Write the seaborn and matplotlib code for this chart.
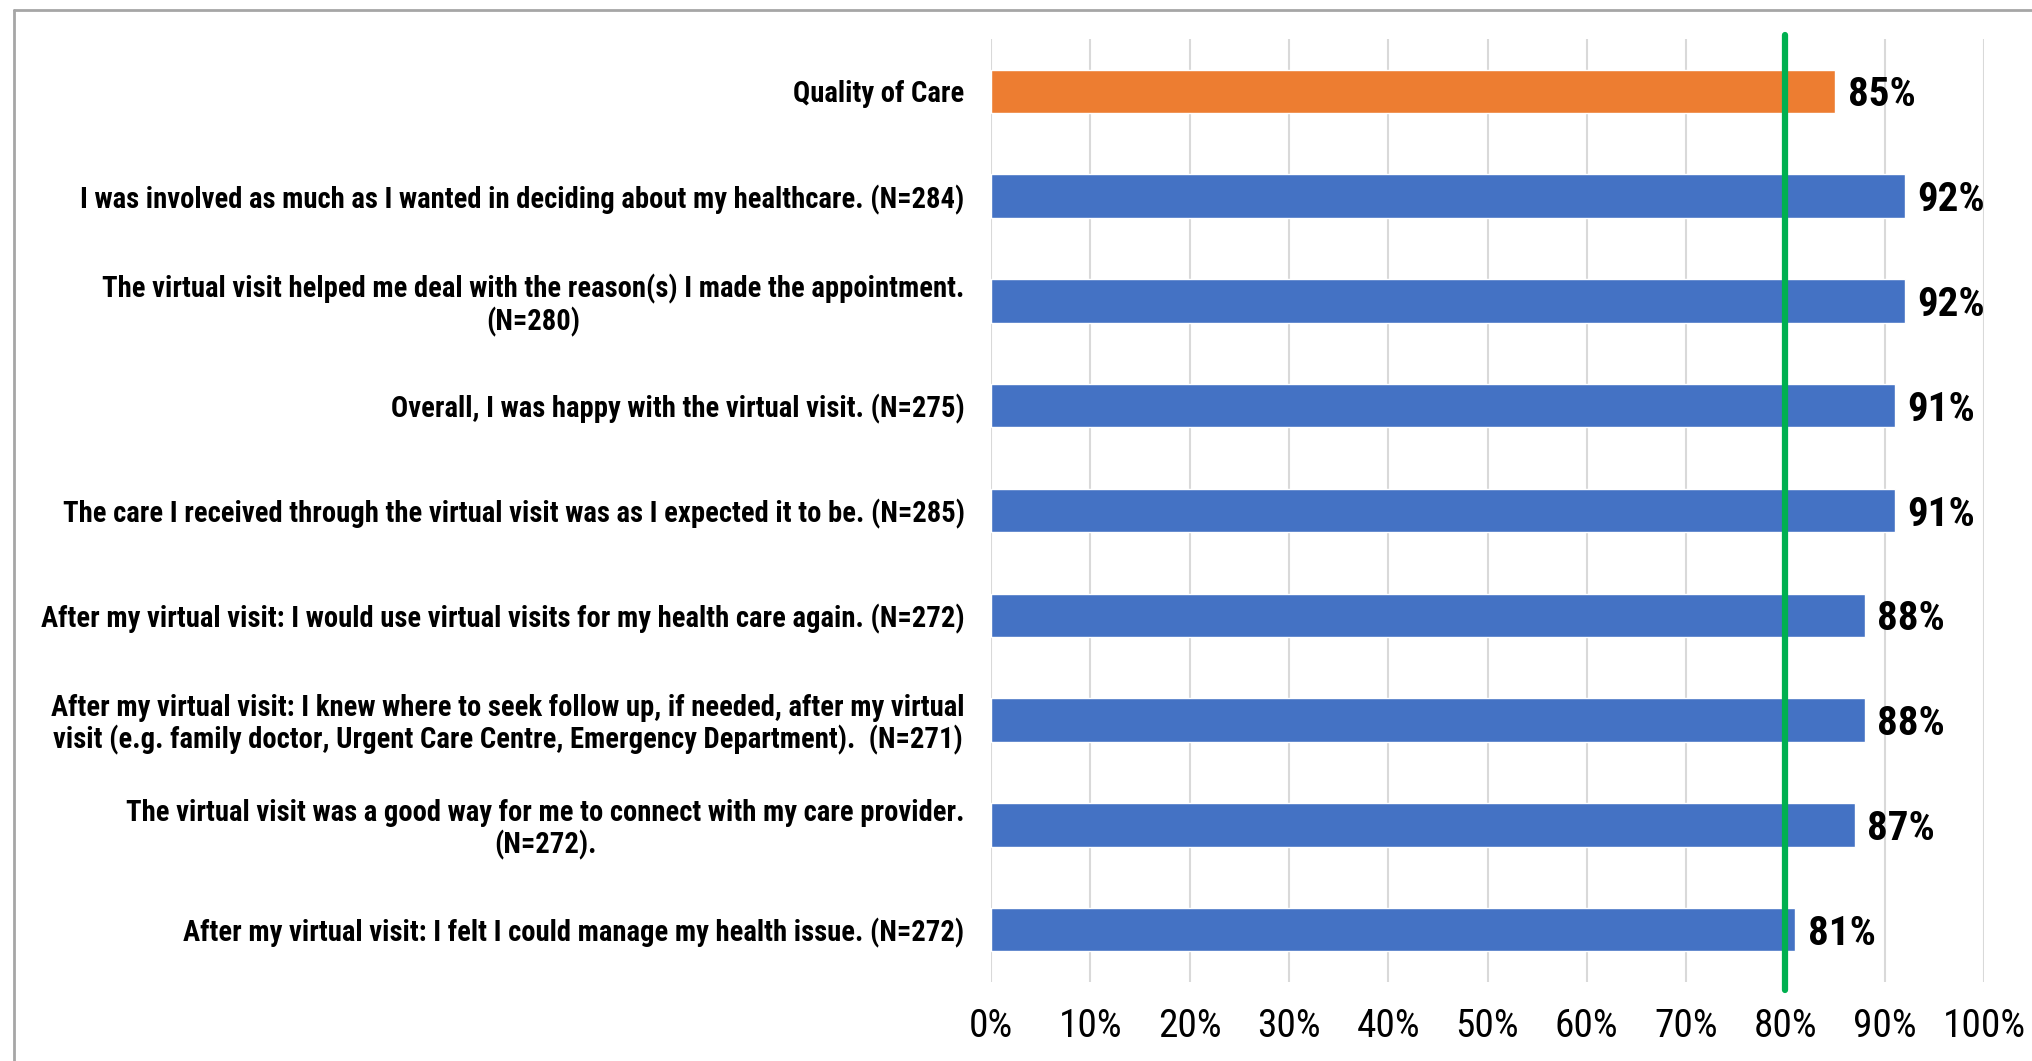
import matplotlib
matplotlib.use("Agg")
import matplotlib.pyplot as plt
import seaborn as sns
import pandas as pd
from matplotlib.lines import Line2D
from matplotlib import font_manager as fm

categories = [
    "Quality of Care",
    "I was involved as much as I wanted in deciding about my healthcare. (N=284)",
    "The virtual visit helped me deal with the reason(s) I made the appointment.\n(N=280)",
    "Overall, I was happy with the virtual visit. (N=275)",
    "The care I received through the virtual visit was as I expected it to be. (N=285)",
    "After my virtual visit: I would use virtual visits for my health care again. (N=272)",
    "After my virtual visit: I knew where to seek follow up, if needed, after my virtual\nvisit (e.g. family doctor, Urgent Care Centre, Emergency Department).  (N=271)",
    "The virtual visit was a good way for me to connect with my care provider.\n(N=272).",
    "After my virtual visit: I felt I could manage my health issue. (N=272)",
]
values = [85, 92, 92, 91, 91, 88, 88, 87, 81]
value_labels = ["85%", "92%", "92%", "91%", "91%", "88%", "88%", "87%", "81%"]
bar_colors = ["#ED7D31"] + ["#4472C4"] * 8
target = 80
x_ticks = [0, 10, 20, 30, 40, 50, 60, 70, 80, 90, 100]
x_tick_labels = ["0%", "10%", "20%", "30%", "40%", "50%", "60%", "70%", "80%", "90%", "100%"]

sns.set_theme(style="white")

available = {f.name for f in fm.fontManager.ttflist}
candidates = ["Liberation Sans Narrow", "Roboto Condensed", "Open Sans Condensed",
              "Noto Sans Condensed", "Arial Narrow", "Lato", "Roboto", "DejaVu Sans"]
main_font = next(c for c in candidates if c in available)
FAM = [main_font, "DejaVu Sans"]
plt.rcParams["font.family"] = FAM

df = pd.DataFrame({"category": categories, "value": values})

fig = plt.figure(figsize=(20.33, 10.61), dpi=100)
ax = fig.add_axes([991 / 2033, 1 - 982 / 1061, (1984 - 991) / 2033, (982 - 39) / 1061])

renderer = fig.canvas.get_renderer()


def fit_size(text, target_px, weight="normal", cap=40):
    probe = fig.text(0, 0, text, fontsize=20, fontweight=weight, family=FAM)
    w = probe.get_window_extent(renderer).width
    probe.remove()
    return min(cap, 20 * target_px / w)


label_size = fit_size(categories[1], 880, "bold", cap=21)
tick_size = fit_size("100%", 83, "normal", cap=32)
val_size = fit_size("92%", 68, "bold", cap=34)

sns.barplot(data=df, x="value", y="category", hue="category", palette=bar_colors,
            legend=False, width=0.415, ax=ax, saturation=1, orient="h")

ax.set_xlim(0, 100)
ax.set_ylim(8.5, -0.5)
ax.set_xticks(x_ticks)
ax.set_xticklabels(x_tick_labels, fontsize=tick_size, family=FAM)
ax.set_yticks(range(len(categories)))
ax.set_yticklabels(categories, fontsize=label_size, fontweight="bold", family=FAM,
                   multialignment="center", linespacing=1.1)
ax.tick_params(axis="x", length=0, pad=19, colors="black")
ax.tick_params(axis="y", length=0, pad=19, colors="black")
ax.set_xlabel("")
ax.set_ylabel("")
ax.grid(axis="x", color="#D9D9D9", linewidth=1.5)
ax.set_axisbelow(True)
for s in ax.spines.values():
    s.set_visible(False)

for i, cont in enumerate(ax.containers):
    texts = ax.bar_label(cont, labels=[value_labels[i]], padding=9, fontsize=val_size,
                         fontweight="bold", family=FAM, color="black")
    for t in texts:
        t.set_va("center_baseline")

ax.axvline(target, ymin=-0.0085, ymax=1.004, color="#00B050", linewidth=4.5,
           clip_on=False, zorder=5)

# outer frame (top and left edges visible)
fig.add_artist(Line2D([14 / 2033, 1], [1 - 9.5 / 1061, 1 - 9.5 / 1061],
                      transform=fig.transFigure, color="#A6A6A6", linewidth=2))
fig.add_artist(Line2D([14 / 2033, 14 / 2033], [0, 1 - 9.5 / 1061],
                      transform=fig.transFigure, color="#A6A6A6", linewidth=2))

fig.savefig("out.png", dpi=100)
